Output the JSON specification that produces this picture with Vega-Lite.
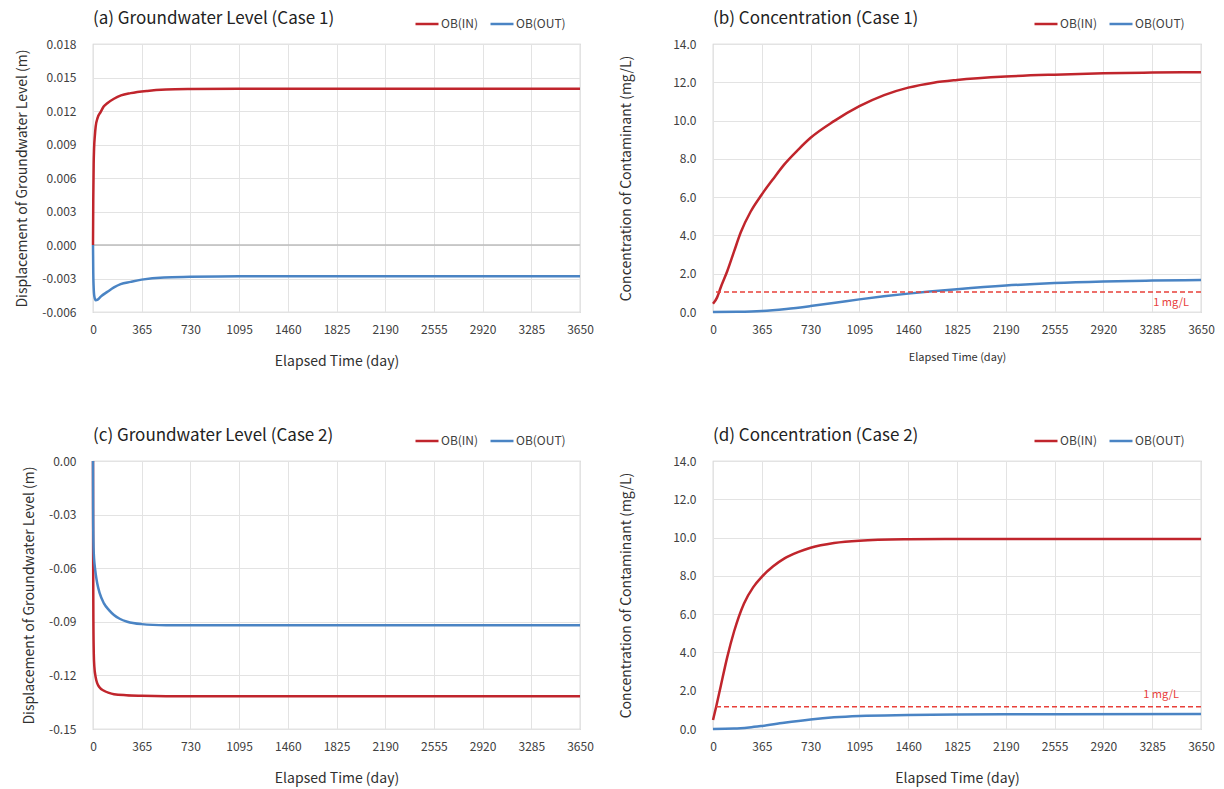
{
  "$schema": "https://vega.github.io/schema/vega-lite/v6.json",
  "background": "white",
  "padding": {"left": 15, "top": 9, "right": 5, "bottom": 2},
  "bounds": "flush",
  "columns": 2,
  "spacing": {"row": 149, "column": 133},
  "resolve": {"scale": {"color": "independent", "x": "independent", "y": "independent"}, "legend": {"color": "independent"}},
  "config": {
    "font": "Noto Sans CJK KR",
    "view": {"stroke": "#C8C8C8", "strokeWidth": 1.2},
    "axis": {"labelFontSize": 12, "labelColor": "#404040", "titleFontSize": 14, "titleFontWeight": "normal", "titleColor": "#303030", "gridColor": "#E3E3E3", "ticks": false, "domain": false, "labelOverlap": false, "labelFlush": false, "tickCount": 30},
    "axisX": {"labelPadding": 12, "titlePadding": 19, "format": "d"},
    "axisY": {"labelPadding": 17, "titlePadding": 12, "labelOverlap": false},
    "title": {"fontSize": 17, "fontWeight": "normal", "color": "#222222", "anchor": "start", "frame": "group", "offset": -17},
    "legend": {"orient": "none", "direction": "horizontal", "title": null, "symbolType": "stroke", "symbolSize": 529, "symbolStrokeWidth": 2.5, "labelFontSize": 12, "labelColor": "#404040", "labelOffset": 1, "columnPadding": 6}
  },
  "datasets": {
    "a": [
      {"t": 0, "s": "OB(IN)", "v": 0}, {"t": 2, "s": "OB(IN)", "v": 0.004}, {"t": 5, "s": "OB(IN)", "v": 0.0072}, {"t": 8, "s": "OB(IN)", "v": 0.0086}, {"t": 14, "s": "OB(IN)", "v": 0.0098}, {"t": 20, "s": "OB(IN)", "v": 0.0106}, {"t": 35, "s": "OB(IN)", "v": 0.0114}, {"t": 57, "s": "OB(IN)", "v": 0.0119}, {"t": 80, "s": "OB(IN)", "v": 0.0124}, {"t": 107, "s": "OB(IN)", "v": 0.0127}, {"t": 157, "s": "OB(IN)", "v": 0.0131}, {"t": 210, "s": "OB(IN)", "v": 0.0134}, {"t": 282, "s": "OB(IN)", "v": 0.0136}, {"t": 407, "s": "OB(IN)", "v": 0.0138}, {"t": 548, "s": "OB(IN)", "v": 0.01392}, {"t": 730, "s": "OB(IN)", "v": 0.01397}, {"t": 1095, "s": "OB(IN)", "v": 0.014}, {"t": 1825, "s": "OB(IN)", "v": 0.014}, {"t": 3650, "s": "OB(IN)", "v": 0.014},
      {"t": 0, "s": "OB(OUT)", "v": 0}, {"t": 2, "s": "OB(OUT)", "v": -0.0025}, {"t": 5, "s": "OB(OUT)", "v": -0.0038}, {"t": 10, "s": "OB(OUT)", "v": -0.0046}, {"t": 20, "s": "OB(OUT)", "v": -0.00495}, {"t": 35, "s": "OB(OUT)", "v": -0.0049}, {"t": 60, "s": "OB(OUT)", "v": -0.0046}, {"t": 107, "s": "OB(OUT)", "v": -0.0042}, {"t": 157, "s": "OB(OUT)", "v": -0.0038}, {"t": 207, "s": "OB(OUT)", "v": -0.0035}, {"t": 282, "s": "OB(OUT)", "v": -0.0033}, {"t": 365, "s": "OB(OUT)", "v": -0.0031}, {"t": 532, "s": "OB(OUT)", "v": -0.0029}, {"t": 730, "s": "OB(OUT)", "v": -0.00285}, {"t": 1095, "s": "OB(OUT)", "v": -0.0028}, {"t": 1825, "s": "OB(OUT)", "v": -0.0028}, {"t": 3650, "s": "OB(OUT)", "v": -0.0028}
    ],
    "b": [
      {"t": 0, "s": "OB(IN)", "v": 0.43}, {"t": 30, "s": "OB(IN)", "v": 0.75}, {"t": 57, "s": "OB(IN)", "v": 1.27}, {"t": 107, "s": "OB(IN)", "v": 2.14}, {"t": 157, "s": "OB(IN)", "v": 3.15}, {"t": 207, "s": "OB(IN)", "v": 4.15}, {"t": 282, "s": "OB(IN)", "v": 5.25}, {"t": 365, "s": "OB(IN)", "v": 6.14}, {"t": 450, "s": "OB(IN)", "v": 6.95}, {"t": 532, "s": "OB(IN)", "v": 7.7}, {"t": 640, "s": "OB(IN)", "v": 8.5}, {"t": 730, "s": "OB(IN)", "v": 9.1}, {"t": 905, "s": "OB(IN)", "v": 9.97}, {"t": 1095, "s": "OB(IN)", "v": 10.75}, {"t": 1280, "s": "OB(IN)", "v": 11.33}, {"t": 1460, "s": "OB(IN)", "v": 11.72}, {"t": 1650, "s": "OB(IN)", "v": 11.98}, {"t": 1825, "s": "OB(IN)", "v": 12.12}, {"t": 2190, "s": "OB(IN)", "v": 12.3}, {"t": 2555, "s": "OB(IN)", "v": 12.4}, {"t": 2920, "s": "OB(IN)", "v": 12.47}, {"t": 3285, "s": "OB(IN)", "v": 12.51}, {"t": 3650, "s": "OB(IN)", "v": 12.53},
      {"t": 0, "s": "OB(OUT)", "v": 0}, {"t": 182, "s": "OB(OUT)", "v": 0.01}, {"t": 365, "s": "OB(OUT)", "v": 0.05}, {"t": 548, "s": "OB(OUT)", "v": 0.16}, {"t": 730, "s": "OB(OUT)", "v": 0.31}, {"t": 913, "s": "OB(OUT)", "v": 0.48}, {"t": 1095, "s": "OB(OUT)", "v": 0.66}, {"t": 1278, "s": "OB(OUT)", "v": 0.82}, {"t": 1460, "s": "OB(OUT)", "v": 0.96}, {"t": 1643, "s": "OB(OUT)", "v": 1.08}, {"t": 1825, "s": "OB(OUT)", "v": 1.19}, {"t": 2190, "s": "OB(OUT)", "v": 1.38}, {"t": 2555, "s": "OB(OUT)", "v": 1.51}, {"t": 2920, "s": "OB(OUT)", "v": 1.59}, {"t": 3285, "s": "OB(OUT)", "v": 1.64}, {"t": 3650, "s": "OB(OUT)", "v": 1.67}
    ],
    "c": [
      {"t": 0, "s": "OB(IN)", "v": 0}, {"t": 1, "s": "OB(IN)", "v": -0.05}, {"t": 3, "s": "OB(IN)", "v": -0.09}, {"t": 6, "s": "OB(IN)", "v": -0.108}, {"t": 10, "s": "OB(IN)", "v": -0.115}, {"t": 20, "s": "OB(IN)", "v": -0.121}, {"t": 32, "s": "OB(IN)", "v": -0.1245}, {"t": 50, "s": "OB(IN)", "v": -0.1268}, {"t": 82, "s": "OB(IN)", "v": -0.1286}, {"t": 120, "s": "OB(IN)", "v": -0.1298}, {"t": 157, "s": "OB(IN)", "v": -0.1305}, {"t": 250, "s": "OB(IN)", "v": -0.1311}, {"t": 365, "s": "OB(IN)", "v": -0.1314}, {"t": 548, "s": "OB(IN)", "v": -0.1316}, {"t": 1460, "s": "OB(IN)", "v": -0.1316}, {"t": 3650, "s": "OB(IN)", "v": -0.1316},
      {"t": 0, "s": "OB(OUT)", "v": 0}, {"t": 1, "s": "OB(OUT)", "v": -0.03}, {"t": 3, "s": "OB(OUT)", "v": -0.045}, {"t": 6, "s": "OB(OUT)", "v": -0.052}, {"t": 12, "s": "OB(OUT)", "v": -0.058}, {"t": 20, "s": "OB(OUT)", "v": -0.063}, {"t": 32, "s": "OB(OUT)", "v": -0.0686}, {"t": 50, "s": "OB(OUT)", "v": -0.074}, {"t": 82, "s": "OB(OUT)", "v": -0.0797}, {"t": 120, "s": "OB(OUT)", "v": -0.0835}, {"t": 157, "s": "OB(OUT)", "v": -0.0862}, {"t": 200, "s": "OB(OUT)", "v": -0.0883}, {"t": 257, "s": "OB(OUT)", "v": -0.09}, {"t": 365, "s": "OB(OUT)", "v": -0.0913}, {"t": 548, "s": "OB(OUT)", "v": -0.0919}, {"t": 730, "s": "OB(OUT)", "v": -0.092}, {"t": 1460, "s": "OB(OUT)", "v": -0.092}, {"t": 3650, "s": "OB(OUT)", "v": -0.092}
    ],
    "d": [
      {"t": 0, "s": "OB(IN)", "v": 0.47}, {"t": 25, "s": "OB(IN)", "v": 1.2}, {"t": 57, "s": "OB(IN)", "v": 2.21}, {"t": 107, "s": "OB(IN)", "v": 3.77}, {"t": 157, "s": "OB(IN)", "v": 5.08}, {"t": 232, "s": "OB(IN)", "v": 6.56}, {"t": 300, "s": "OB(IN)", "v": 7.4}, {"t": 365, "s": "OB(IN)", "v": 7.95}, {"t": 450, "s": "OB(IN)", "v": 8.5}, {"t": 532, "s": "OB(IN)", "v": 8.9}, {"t": 640, "s": "OB(IN)", "v": 9.25}, {"t": 730, "s": "OB(IN)", "v": 9.47}, {"t": 905, "s": "OB(IN)", "v": 9.72}, {"t": 1095, "s": "OB(IN)", "v": 9.84}, {"t": 1460, "s": "OB(IN)", "v": 9.91}, {"t": 1825, "s": "OB(IN)", "v": 9.93}, {"t": 2555, "s": "OB(IN)", "v": 9.93}, {"t": 3650, "s": "OB(IN)", "v": 9.93},
      {"t": 0, "s": "OB(OUT)", "v": 0}, {"t": 157, "s": "OB(OUT)", "v": 0.02}, {"t": 270, "s": "OB(OUT)", "v": 0.08}, {"t": 365, "s": "OB(OUT)", "v": 0.16}, {"t": 532, "s": "OB(OUT)", "v": 0.33}, {"t": 730, "s": "OB(OUT)", "v": 0.5}, {"t": 905, "s": "OB(OUT)", "v": 0.61}, {"t": 1095, "s": "OB(OUT)", "v": 0.68}, {"t": 1460, "s": "OB(OUT)", "v": 0.73}, {"t": 1825, "s": "OB(OUT)", "v": 0.76}, {"t": 2555, "s": "OB(OUT)", "v": 0.77}, {"t": 3650, "s": "OB(OUT)", "v": 0.78}
    ],
    "zero": [{"v": 0}],
    "thrB": [{"v": 1.05, "label": "1 mg/L"}],
    "thrD": [{"v": 1.16, "label": "1 mg/L"}]
  },
  "concat": [
    {
      "width": 487, "height": 268,
      "title": {"text": "(a) Groundwater Level (Case 1)"},
      "layer": [
        {"data": {"name": "zero"}, "mark": {"type": "rule", "color": "#BDBDBD", "strokeWidth": 1.5}, "encoding": {"y": {"field": "v", "type": "quantitative"}}},
        {"data": {"name": "a"}, "mark": {"type": "line", "strokeWidth": 2.5, "interpolate": "monotone"},
          "encoding": {
            "x": {"field": "t", "type": "quantitative", "scale": {"domain": [0, 3650], "nice": false}, "axis": {"values": [0, 365, 730, 1095, 1460, 1825, 2190, 2555, 2920, 3285, 3650], "title": "Elapsed Time (day)"}},
            "y": {"field": "v", "type": "quantitative", "scale": {"domain": [-0.006, 0.018], "nice": false}, "axis": {"values": [-0.006, -0.003, 0, 0.003, 0.006, 0.009, 0.012, 0.015, 0.018], "tickCount": 30, "labelOverlap": false, "labelExpr": "replace(format(datum.value, '.3f'), '\u2212', '-')", "title": "Displacement of Groundwater Level (m)"}},
            "color": {"field": "s", "type": "nominal", "scale": {"domain": ["OB(IN)", "OB(OUT)"], "range": ["#C0252C", "#4A84C4"]}, "legend": {"legendX": 321, "legendY": -33}}
          }}
      ]
    },
    {
      "width": 488, "height": 268,
      "title": {"text": "(b) Concentration (Case 1)"},
      "layer": [
        {"data": {"name": "b"}, "mark": {"type": "line", "strokeWidth": 2.5, "interpolate": "monotone"},
          "encoding": {
            "x": {"field": "t", "type": "quantitative", "scale": {"domain": [0, 3650], "nice": false}, "axis": {"values": [0, 365, 730, 1095, 1460, 1825, 2190, 2555, 2920, 3285, 3650], "title": "Elapsed Time (day)", "titleFontSize": 11, "titlePadding": 16}},
            "y": {"field": "v", "type": "quantitative", "scale": {"domain": [0, 14], "nice": false}, "axis": {"values": [0, 2, 4, 6, 8, 10, 12, 14], "tickCount": 30, "labelOverlap": false, "format": ".1f", "title": "Concentration of Contaminant (mg/L)", "titlePadding": 39}},
            "color": {"field": "s", "type": "nominal", "scale": {"domain": ["OB(IN)", "OB(OUT)"], "range": ["#C0252C", "#4A84C4"]}, "legend": {"legendX": 320, "legendY": -33}}
          }},
        {"data": {"name": "thrB"}, "mark": {"type": "rule", "color": "#E8403A", "strokeWidth": 1.5, "strokeDash": [5, 3]}, "encoding": {"y": {"field": "v", "type": "quantitative"}}},
        {"data": {"name": "thrB"}, "mark": {"type": "text", "color": "#E8403A", "fontSize": 11, "align": "right", "dx": -12, "dy": 11}, "encoding": {"x": {"datum": 3650}, "y": {"field": "v", "type": "quantitative"}, "text": {"field": "label"}}}
      ]
    },
    {
      "width": 487, "height": 268,
      "title": {"text": "(c) Groundwater Level (Case 2)"},
      "layer": [
        {"data": {"name": "c"}, "mark": {"type": "line", "strokeWidth": 2.5, "interpolate": "monotone"},
          "encoding": {
            "x": {"field": "t", "type": "quantitative", "scale": {"domain": [0, 3650], "nice": false}, "axis": {"values": [0, 365, 730, 1095, 1460, 1825, 2190, 2555, 2920, 3285, 3650], "title": "Elapsed Time (day)"}},
            "y": {"field": "v", "type": "quantitative", "scale": {"domain": [-0.15, 0], "nice": false}, "axis": {"values": [-0.15, -0.12, -0.09, -0.06, -0.03, 0], "tickCount": 30, "labelOverlap": false, "labelExpr": "replace(format(datum.value, '.2f'), '\u2212', '-')", "title": "Displacement of Groundwater Level (m)"}},
            "color": {"field": "s", "type": "nominal", "scale": {"domain": ["OB(IN)", "OB(OUT)"], "range": ["#C0252C", "#4A84C4"]}, "legend": {"legendX": 321, "legendY": -33}}
          }}
      ]
    },
    {
      "width": 488, "height": 268,
      "title": {"text": "(d) Concentration (Case 2)"},
      "layer": [
        {"data": {"name": "d"}, "mark": {"type": "line", "strokeWidth": 2.5, "interpolate": "monotone"},
          "encoding": {
            "x": {"field": "t", "type": "quantitative", "scale": {"domain": [0, 3650], "nice": false}, "axis": {"values": [0, 365, 730, 1095, 1460, 1825, 2190, 2555, 2920, 3285, 3650], "title": "Elapsed Time (day)"}},
            "y": {"field": "v", "type": "quantitative", "scale": {"domain": [0, 14], "nice": false}, "axis": {"values": [0, 2, 4, 6, 8, 10, 12, 14], "tickCount": 30, "labelOverlap": false, "format": ".1f", "title": "Concentration of Contaminant (mg/L)", "titlePadding": 39}},
            "color": {"field": "s", "type": "nominal", "scale": {"domain": ["OB(IN)", "OB(OUT)"], "range": ["#C0252C", "#4A84C4"]}, "legend": {"legendX": 320, "legendY": -33}}
          }},
        {"data": {"name": "thrD"}, "mark": {"type": "rule", "color": "#E8403A", "strokeWidth": 1.5, "strokeDash": [5, 3]}, "encoding": {"y": {"field": "v", "type": "quantitative"}}},
        {"data": {"name": "thrD"}, "mark": {"type": "text", "color": "#E8403A", "fontSize": 11, "align": "right", "dx": -22, "dy": -12}, "encoding": {"x": {"datum": 3650}, "y": {"field": "v", "type": "quantitative"}, "text": {"field": "label"}}}
      ]
    }
  ]
}
